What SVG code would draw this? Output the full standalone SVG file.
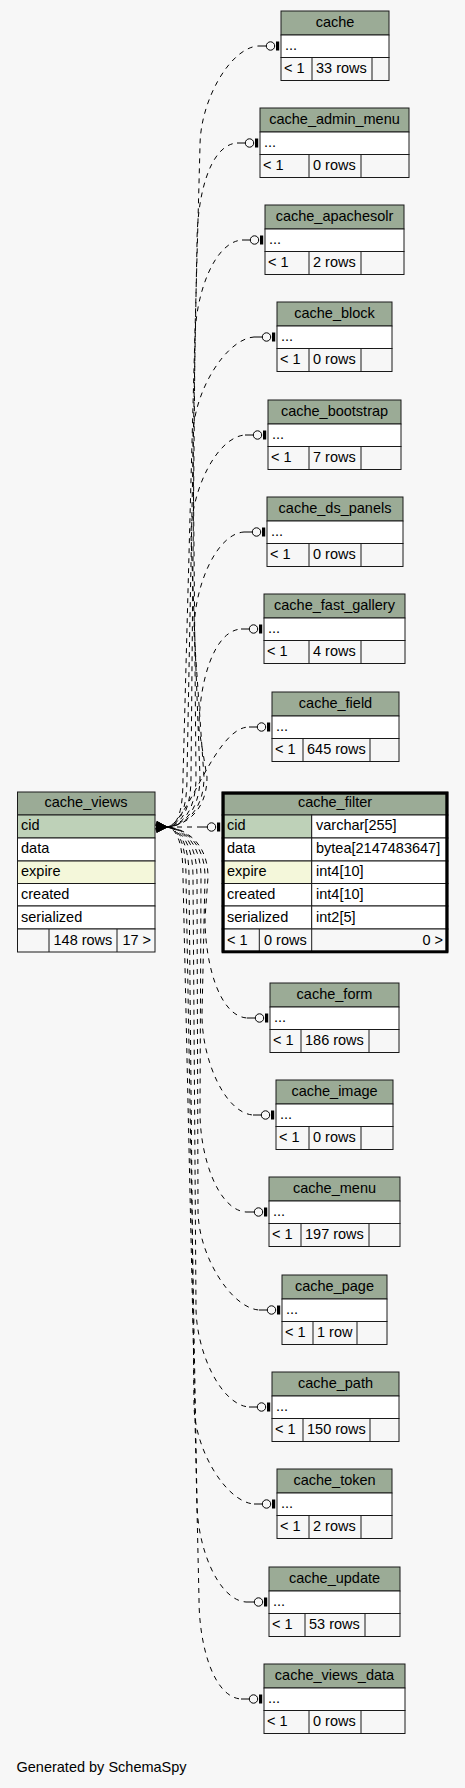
<svg xmlns="http://www.w3.org/2000/svg" width="465" height="1788" viewBox="0 0 465 1788">
<style>
text{font-family:"Liberation Sans",Arial,Helvetica,sans-serif;font-size:14.5px;fill:#000}
.c{text-anchor:middle}
.r{text-anchor:end}
rect.hd,rect.pk,rect.ix,rect.bd,rect.ft{stroke:#1a1a1a;stroke-width:1}
.hd{fill:#9bab96}
.pk{fill:#bed1b8}
.ix{fill:#f4f7da}
.bd{fill:#ffffff}
.ft{fill:#f7f7f7}
.dv{stroke:#1a1a1a;stroke-width:1}
.edge{fill:none;stroke:#000;stroke-width:1;stroke-dasharray:5,5;marker-start:url(#crow);marker-end:url(#tee)}
</style>
<defs>
<marker id="crow" markerUnits="userSpaceOnUse" orient="auto-start-reverse" overflow="visible" markerWidth="1" markerHeight="1" refX="0" refY="0">
<path d="M0,0 L11,-3.5 M0,0 L11,0 M0,0 L11,3.5" stroke="#000" stroke-width="0.9" fill="none"/>
</marker>
<marker id="tee" markerUnits="userSpaceOnUse" orient="0" overflow="visible" markerWidth="1" markerHeight="1" refX="0" refY="0">
<path d="M0,0 H8.3" stroke="#000" stroke-width="1" fill="none"/>
<circle cx="12.5" cy="0" r="4.2" fill="none" stroke="#000" stroke-width="1"/>
<rect x="18" y="-4.5" width="3.2" height="9" fill="#000"/>
</marker>
</defs>
<rect x="0" y="0" width="465" height="1788" fill="#f7f7f7"/>

<g id="connectors">
<path class="edge" stroke-dashoffset="0" d="M167,827 C178,825 183,812 183,777 L200,146 C200,101 230,48 258,46"/>
<path class="edge" stroke-dashoffset="2" d="M167,827 C179,825 187,812 187,777 L197,243 C197,198 209,145 237,143"/>
<path class="edge" stroke-dashoffset="4" d="M167,827 C180,825 191,812 191,777 L195,340 C195,295 214,242 242,240"/>
<path class="edge" stroke-dashoffset="6" d="M167,827 C181,826 196,812 196,777 L193,437 C193,392 226,339 254,337"/>
<path class="edge" stroke-dashoffset="8" d="M167,827 C182,826 200,812 200,777 L191,535 C191,490 217,437 245,435"/>
<path class="edge" stroke-dashoffset="1" d="M167,827 C183,826 204,812 204,777 L194,632 C194,587 216,534 244,532"/>
<path class="edge" stroke-dashoffset="3" d="M167,827 C184,826 207,812 207,777 L199,729 C199,684 213,631 241,629"/>
<path class="edge" stroke-dashoffset="5" d="M167,827 C188,824 215,727 249,727"/>
<path class="edge" d="M167,827 L199,827"/>
<path class="edge" stroke-dashoffset="7" d="M167,827 C184,828 208,842 208,877 L205,918 C205,963 219,1016 247,1018"/>
<path class="edge" stroke-dashoffset="9" d="M167,827 C183,828 205,842 205,877 L202,1015 C202,1060 225,1113 253,1115"/>
<path class="edge" stroke-dashoffset="2" d="M167,827 C182,828 201,842 201,877 L200,1112 C200,1157 218,1210 246,1212"/>
<path class="edge" stroke-dashoffset="4" d="M167,827 C181,828 197,842 197,877 L198,1210 C198,1255 231,1308 259,1310"/>
<path class="edge" stroke-dashoffset="6" d="M167,827 C180,829 193,842 193,877 L196,1307 C196,1352 221,1405 249,1407"/>
<path class="edge" stroke-dashoffset="8" d="M167,827 C179,829 189,842 189,877 L194,1404 C194,1449 226,1502 254,1504"/>
<path class="edge" stroke-dashoffset="1" d="M167,827 C178,829 186,842 186,877 L197,1502 C197,1547 218,1600 246,1602"/>
<path class="edge" stroke-dashoffset="3" d="M167,827 C177,829 183,842 183,877 L199,1599 C199,1644 213,1697 241,1699"/>
</g>

<g id="cache_views">
<rect class="hd" x="17.5" y="792" width="137.5" height="23"/>
<rect class="pk" x="17.5" y="815" width="137.5" height="23"/>
<rect class="bd" x="17.5" y="838" width="137.5" height="23"/>
<rect class="ix" x="17.5" y="861" width="137.5" height="22.5"/>
<rect class="bd" x="17.5" y="883.5" width="137.5" height="22.5"/>
<rect class="bd" x="17.5" y="906" width="137.5" height="23"/>
<rect class="ft" x="17.5" y="929" width="137.5" height="23"/>
<line class="dv" x1="49" y1="929" x2="49" y2="952"/>
<line class="dv" x1="117" y1="929" x2="117" y2="952"/>
<text class="c" x="86" y="807">cache_views</text>
<text x="21" y="830">cid</text>
<text x="21" y="853">data</text>
<text x="21" y="876">expire</text>
<text x="21" y="898.5">created</text>
<text x="21" y="921.5">serialized</text>
<text x="53.5" y="945">148 rows</text>
<text class="r" x="151" y="945">17 &gt;</text>
</g>

<g id="cache_filter">
<rect class="hd" x="222" y="792" width="226" height="23"/>
<rect class="pk" x="222" y="815" width="89.7" height="23"/>
<rect class="bd" x="311.7" y="815" width="136.3" height="23"/>
<rect class="bd" x="222" y="838" width="89.7" height="23"/>
<rect class="bd" x="311.7" y="838" width="136.3" height="23"/>
<rect class="ix" x="222" y="861" width="89.7" height="22.5"/>
<rect class="bd" x="311.7" y="861" width="136.3" height="22.5"/>
<rect class="bd" x="222" y="883.5" width="89.7" height="22.5"/>
<rect class="bd" x="311.7" y="883.5" width="136.3" height="22.5"/>
<rect class="bd" x="222" y="906" width="89.7" height="23"/>
<rect class="bd" x="311.7" y="906" width="136.3" height="23"/>
<rect class="ft" x="222" y="929" width="226" height="23"/>
<line class="dv" x1="259.3" y1="929" x2="259.3" y2="952"/>
<line class="dv" x1="311.7" y1="929" x2="311.7" y2="952"/>
<rect x="223.2" y="793.2" width="223.6" height="158.6" fill="none" stroke="#000" stroke-width="3"/>
<text class="c" x="335" y="807">cache_filter</text>
<text x="227" y="830">cid</text>
<text x="316" y="830">varchar[255]</text>
<text x="227" y="853">data</text>
<text x="316" y="853">bytea[2147483647]</text>
<text x="227" y="876">expire</text>
<text x="316" y="876">int4[10]</text>
<text x="227" y="898.5">created</text>
<text x="316" y="898.5">int4[10]</text>
<text x="227" y="921.5">serialized</text>
<text x="316" y="921.5">int2[5]</text>
<text x="227" y="945">&lt; 1</text>
<text x="264" y="945">0 rows</text>
<text class="r" x="443" y="945">0 &gt;</text>
</g>

<g id="cache">
<rect class="hd" x="281" y="11" width="108" height="24"/>
<rect class="bd" x="281" y="35" width="108" height="22.5"/>
<rect class="ft" x="281" y="57.5" width="108" height="23"/>
<line class="dv" x1="312" y1="57.5" x2="312" y2="80.5"/>
<line class="dv" x1="372" y1="57.5" x2="372" y2="80.5"/>
<text class="c" x="335" y="27">cache</text>
<text x="285" y="49.5">...</text>
<text x="284" y="73">&lt; 1</text>
<text x="316" y="73">33 rows</text>
</g>

<g id="cache_admin_menu">
<rect class="hd" x="260" y="108" width="149" height="24"/>
<rect class="bd" x="260" y="132" width="149" height="22.5"/>
<rect class="ft" x="260" y="154.5" width="149" height="23"/>
<line class="dv" x1="309" y1="154.5" x2="309" y2="177.5"/>
<line class="dv" x1="361" y1="154.5" x2="361" y2="177.5"/>
<text class="c" x="334.5" y="124">cache_admin_menu</text>
<text x="264" y="146.5">...</text>
<text x="263" y="170">&lt; 1</text>
<text x="313" y="170">0 rows</text>
</g>

<g id="cache_apachesolr">
<rect class="hd" x="265" y="205" width="139" height="24"/>
<rect class="bd" x="265" y="229" width="139" height="22.5"/>
<rect class="ft" x="265" y="251.5" width="139" height="23"/>
<line class="dv" x1="309" y1="251.5" x2="309" y2="274.5"/>
<line class="dv" x1="361" y1="251.5" x2="361" y2="274.5"/>
<text class="c" x="334.5" y="221">cache_apachesolr</text>
<text x="269" y="243.5">...</text>
<text x="268" y="267">&lt; 1</text>
<text x="313" y="267">2 rows</text>
</g>

<g id="cache_block">
<rect class="hd" x="277" y="302" width="115" height="24"/>
<rect class="bd" x="277" y="326" width="115" height="22.5"/>
<rect class="ft" x="277" y="348.5" width="115" height="23"/>
<line class="dv" x1="309" y1="348.5" x2="309" y2="371.5"/>
<line class="dv" x1="361" y1="348.5" x2="361" y2="371.5"/>
<text class="c" x="334.5" y="318">cache_block</text>
<text x="281" y="340.5">...</text>
<text x="280" y="364">&lt; 1</text>
<text x="313" y="364">0 rows</text>
</g>

<g id="cache_bootstrap">
<rect class="hd" x="268" y="400" width="133" height="24"/>
<rect class="bd" x="268" y="424" width="133" height="22.5"/>
<rect class="ft" x="268" y="446.5" width="133" height="23"/>
<line class="dv" x1="309" y1="446.5" x2="309" y2="469.5"/>
<line class="dv" x1="361" y1="446.5" x2="361" y2="469.5"/>
<text class="c" x="334.5" y="416">cache_bootstrap</text>
<text x="272" y="438.5">...</text>
<text x="271" y="462">&lt; 1</text>
<text x="313" y="462">7 rows</text>
</g>

<g id="cache_ds_panels">
<rect class="hd" x="267" y="497" width="136" height="24"/>
<rect class="bd" x="267" y="521" width="136" height="22.5"/>
<rect class="ft" x="267" y="543.5" width="136" height="23"/>
<line class="dv" x1="309" y1="543.5" x2="309" y2="566.5"/>
<line class="dv" x1="361" y1="543.5" x2="361" y2="566.5"/>
<text class="c" x="335" y="513">cache_ds_panels</text>
<text x="271" y="535.5">...</text>
<text x="270" y="559">&lt; 1</text>
<text x="313" y="559">0 rows</text>
</g>

<g id="cache_fast_gallery">
<rect class="hd" x="264" y="594" width="141" height="24"/>
<rect class="bd" x="264" y="618" width="141" height="22.5"/>
<rect class="ft" x="264" y="640.5" width="141" height="23"/>
<line class="dv" x1="309" y1="640.5" x2="309" y2="663.5"/>
<line class="dv" x1="361" y1="640.5" x2="361" y2="663.5"/>
<text class="c" x="334.5" y="610">cache_fast_gallery</text>
<text x="268" y="632.5">...</text>
<text x="267" y="656">&lt; 1</text>
<text x="313" y="656">4 rows</text>
</g>

<g id="cache_field">
<rect class="hd" x="272" y="692" width="127" height="24"/>
<rect class="bd" x="272" y="716" width="127" height="22.5"/>
<rect class="ft" x="272" y="738.5" width="127" height="23"/>
<line class="dv" x1="303" y1="738.5" x2="303" y2="761.5"/>
<line class="dv" x1="370" y1="738.5" x2="370" y2="761.5"/>
<text class="c" x="335.5" y="708">cache_field</text>
<text x="276" y="730.5">...</text>
<text x="275" y="754">&lt; 1</text>
<text x="307" y="754">645 rows</text>
</g>

<g id="cache_form">
<rect class="hd" x="270" y="983" width="129" height="24"/>
<rect class="bd" x="270" y="1007" width="129" height="22.5"/>
<rect class="ft" x="270" y="1029.5" width="129" height="23"/>
<line class="dv" x1="301" y1="1029.5" x2="301" y2="1052.5"/>
<line class="dv" x1="369" y1="1029.5" x2="369" y2="1052.5"/>
<text class="c" x="334.5" y="999">cache_form</text>
<text x="274" y="1021.5">...</text>
<text x="273" y="1045">&lt; 1</text>
<text x="305" y="1045">186 rows</text>
</g>

<g id="cache_image">
<rect class="hd" x="276" y="1080" width="117" height="24"/>
<rect class="bd" x="276" y="1104" width="117" height="22.5"/>
<rect class="ft" x="276" y="1126.5" width="117" height="23"/>
<line class="dv" x1="309" y1="1126.5" x2="309" y2="1149.5"/>
<line class="dv" x1="361" y1="1126.5" x2="361" y2="1149.5"/>
<text class="c" x="334.5" y="1096">cache_image</text>
<text x="280" y="1118.5">...</text>
<text x="279" y="1142">&lt; 1</text>
<text x="313" y="1142">0 rows</text>
</g>

<g id="cache_menu">
<rect class="hd" x="269" y="1177" width="131" height="24"/>
<rect class="bd" x="269" y="1201" width="131" height="22.5"/>
<rect class="ft" x="269" y="1223.5" width="131" height="23"/>
<line class="dv" x1="301" y1="1223.5" x2="301" y2="1246.5"/>
<line class="dv" x1="369" y1="1223.5" x2="369" y2="1246.5"/>
<text class="c" x="334.5" y="1193">cache_menu</text>
<text x="273" y="1215.5">...</text>
<text x="272" y="1239">&lt; 1</text>
<text x="305" y="1239">197 rows</text>
</g>

<g id="cache_page">
<rect class="hd" x="282" y="1275" width="105" height="24"/>
<rect class="bd" x="282" y="1299" width="105" height="22.5"/>
<rect class="ft" x="282" y="1321.5" width="105" height="23"/>
<line class="dv" x1="313" y1="1321.5" x2="313" y2="1344.5"/>
<line class="dv" x1="357" y1="1321.5" x2="357" y2="1344.5"/>
<text class="c" x="334.5" y="1291">cache_page</text>
<text x="286" y="1313.5">...</text>
<text x="285" y="1337">&lt; 1</text>
<text x="317" y="1337">1 row</text>
</g>

<g id="cache_path">
<rect class="hd" x="272" y="1372" width="127" height="24"/>
<rect class="bd" x="272" y="1396" width="127" height="22.5"/>
<rect class="ft" x="272" y="1418.5" width="127" height="23"/>
<line class="dv" x1="303" y1="1418.5" x2="303" y2="1441.5"/>
<line class="dv" x1="370" y1="1418.5" x2="370" y2="1441.5"/>
<text class="c" x="335.5" y="1388">cache_path</text>
<text x="276" y="1410.5">...</text>
<text x="275" y="1434">&lt; 1</text>
<text x="307" y="1434">150 rows</text>
</g>

<g id="cache_token">
<rect class="hd" x="277" y="1469" width="115" height="24"/>
<rect class="bd" x="277" y="1493" width="115" height="22.5"/>
<rect class="ft" x="277" y="1515.5" width="115" height="23"/>
<line class="dv" x1="309" y1="1515.5" x2="309" y2="1538.5"/>
<line class="dv" x1="361" y1="1515.5" x2="361" y2="1538.5"/>
<text class="c" x="334.5" y="1485">cache_token</text>
<text x="281" y="1507.5">...</text>
<text x="280" y="1531">&lt; 1</text>
<text x="313" y="1531">2 rows</text>
</g>

<g id="cache_update">
<rect class="hd" x="269" y="1567" width="131" height="24"/>
<rect class="bd" x="269" y="1591" width="131" height="22.5"/>
<rect class="ft" x="269" y="1613.5" width="131" height="23"/>
<line class="dv" x1="305" y1="1613.5" x2="305" y2="1636.5"/>
<line class="dv" x1="365" y1="1613.5" x2="365" y2="1636.5"/>
<text class="c" x="334.5" y="1583">cache_update</text>
<text x="273" y="1605.5">...</text>
<text x="272" y="1629">&lt; 1</text>
<text x="309" y="1629">53 rows</text>
</g>

<g id="cache_views_data">
<rect class="hd" x="264" y="1664" width="141" height="24"/>
<rect class="bd" x="264" y="1688" width="141" height="22.5"/>
<rect class="ft" x="264" y="1710.5" width="141" height="23"/>
<line class="dv" x1="309" y1="1710.5" x2="309" y2="1733.5"/>
<line class="dv" x1="361" y1="1710.5" x2="361" y2="1733.5"/>
<text class="c" x="334.5" y="1680">cache_views_data</text>
<text x="268" y="1702.5">...</text>
<text x="267" y="1726">&lt; 1</text>
<text x="313" y="1726">0 rows</text>
</g>

<text x="16.5" y="1772">Generated by SchemaSpy</text>
</svg>
